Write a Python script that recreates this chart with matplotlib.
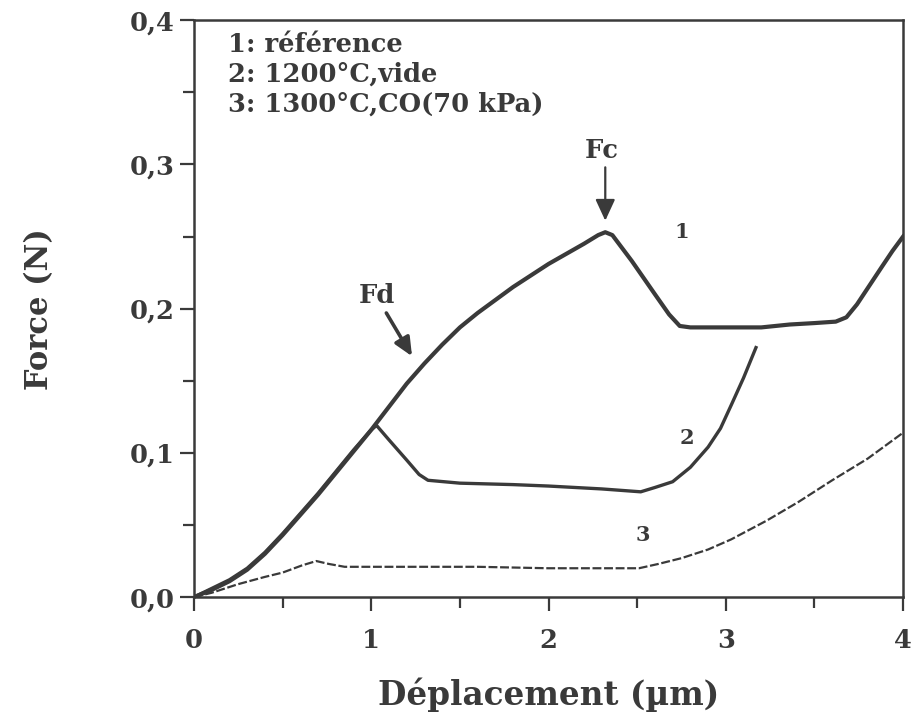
import matplotlib
matplotlib.use("Agg")
import matplotlib.pyplot as plt
from matplotlib.ticker import MultipleLocator, FuncFormatter

# Curve 1: référence
x1 = [0.00, 0.10, 0.20, 0.30, 0.40, 0.50, 0.60, 0.70, 0.80, 0.90, 1.00,
      1.10, 1.20, 1.30, 1.40, 1.50, 1.60, 1.70, 1.80, 1.90, 2.00, 2.10,
      2.20, 2.28, 2.32, 2.36, 2.47, 2.60, 2.68, 2.74, 2.80, 3.00, 3.20,
      3.36, 3.50, 3.62, 3.68, 3.74, 3.81, 3.88, 3.94, 4.00]
y1 = [0.000, 0.005, 0.011, 0.019, 0.030, 0.043, 0.057, 0.071, 0.086, 0.101, 0.116,
      0.132, 0.148, 0.162, 0.175, 0.187, 0.197, 0.206, 0.215, 0.223, 0.231, 0.238,
      0.245, 0.251, 0.253, 0.251, 0.233, 0.210, 0.196, 0.188, 0.187, 0.187, 0.187,
      0.189, 0.190, 0.191, 0.194, 0.203, 0.216, 0.229, 0.240, 0.250]

# Curve 2: 1200°C, vide
x2 = [0.00, 0.10, 0.20, 0.30, 0.40, 0.50, 0.60, 0.70, 0.80, 0.90, 1.00,
      1.03, 1.10, 1.20, 1.27, 1.32, 1.50, 1.80, 2.00, 2.30, 2.52, 2.60,
      2.70, 2.80, 2.90, 2.97, 3.03, 3.10, 3.17]
y2 = [0.000, 0.006, 0.012, 0.020, 0.031, 0.044, 0.058, 0.072, 0.087, 0.102, 0.116,
      0.119, 0.109, 0.095, 0.085, 0.081, 0.079, 0.078, 0.077, 0.075, 0.073, 0.076,
      0.080, 0.090, 0.104, 0.117, 0.133, 0.152, 0.173]

# Curve 3: 1300°C, CO (70 kPa)
x3 = [0.00, 0.10, 0.25, 0.40, 0.50, 0.61, 0.69, 0.76, 0.85, 1.20, 1.60,
      2.00, 2.30, 2.51, 2.62, 2.75, 2.90, 3.03, 3.23, 3.41, 3.60, 3.80, 4.00]
y3 = [0.000, 0.003, 0.009, 0.014, 0.017, 0.022, 0.025, 0.023, 0.021, 0.021, 0.021,
      0.020, 0.020, 0.020, 0.023, 0.027, 0.033, 0.040, 0.053, 0.066, 0.081, 0.096, 0.114]

legend_lines = ["1: référence", "2: 1200°C,vide", "3: 1300°C,CO(70 kPa)"]

plt.rcParams['font.family'] = ['DejaVu Serif']
plt.rcParams['font.weight'] = 'bold'
plt.rcParams['axes.labelweight'] = 'bold'
ink = '#3a3a3a'

fig = plt.figure(figsize=(9.15, 7.22), dpi=100)
ax = fig.add_axes([0.212, 0.173, 0.775, 0.799])

ax.plot(x1, y1, color=ink, lw=3.0, solid_joinstyle='round')
ax.plot(x2, y2, color=ink, lw=2.4, solid_joinstyle='round')
ax.plot(x3, y3, color=ink, lw=1.6, dashes=(4, 1.2))

ax.set_xlim(0, 4)
ax.set_ylim(0, 0.4)

ax.xaxis.set_major_locator(MultipleLocator(1))
ax.xaxis.set_minor_locator(MultipleLocator(0.5))
ax.yaxis.set_major_locator(MultipleLocator(0.1))
ax.yaxis.set_minor_locator(MultipleLocator(0.05))
ax.yaxis.set_major_formatter(FuncFormatter(lambda v, p: f"{v:.1f}".replace('.', ',')))

ax.tick_params(which='both', direction='out', width=1.6, color=ink,
               labelsize=18.5, labelcolor=ink)
ax.tick_params(which='major', length=10)
ax.tick_params(which='minor', length=8)
ax.tick_params(axis='x', pad=12)
ax.tick_params(axis='y', pad=4)
for s in ax.spines.values():
    s.set_linewidth(1.8)
    s.set_color(ink)

ax.set_xlabel("Déplacement (µm)", fontsize=23.5, color=ink, labelpad=18)
ax.set_ylabel("Force (N)", fontsize=22, color=ink, labelpad=54)

for i, t in enumerate(legend_lines):
    ax.text(0.19, 0.383 - i * 0.0205, t, fontsize=18.5, color=ink, va='center')

# curve numbers
ax.text(2.75, 0.253, "1", fontsize=15, color=ink, ha='center', va='center')
ax.text(2.78, 0.110, "2", fontsize=15, color=ink, ha='center', va='center')
ax.text(2.53, 0.043, "3", fontsize=15, color=ink, ha='center', va='center')

# arrows Fc / Fd
ax.text(2.30, 0.310, "Fc", fontsize=18.5, color=ink, ha='center', va='center')
ax.annotate("", xy=(2.32, 0.261), xytext=(2.32, 0.298),
            arrowprops=dict(arrowstyle='-|>,head_length=1.3,head_width=0.6',
                            color=ink, lw=1.6, shrinkA=0, shrinkB=0))
ax.text(1.03, 0.209, "Fd", fontsize=18.5, color=ink, ha='center', va='center')
ax.annotate("", xy=(1.23, 0.167), xytext=(1.085, 0.197),
            arrowprops=dict(arrowstyle='-|>,head_length=1.1,head_width=0.5',
                            color=ink, lw=2.6, shrinkA=0, shrinkB=0))

fig.savefig("out.png", dpi=100)
